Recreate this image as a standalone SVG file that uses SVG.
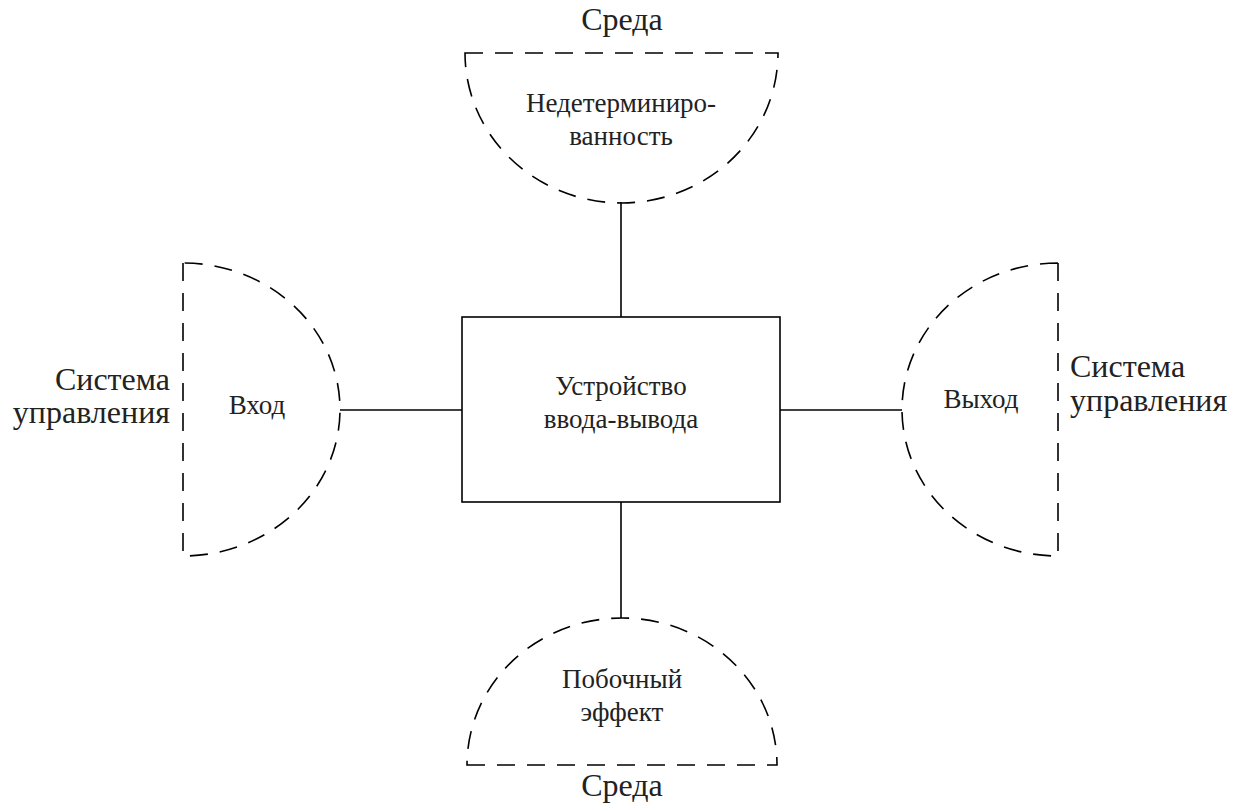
<svg xmlns="http://www.w3.org/2000/svg" width="1238" height="803" viewBox="0 0 1238 803">
<style>
.dash{fill:none;stroke:#000;stroke-width:1.6;stroke-dasharray:18 12}
.line{fill:none;stroke:#000;stroke-width:1.6}
.box{fill:#fff;stroke:#000;stroke-width:1.6}
.t{font-family:"Liberation Serif","Times New Roman",serif;fill:#222;text-anchor:middle}
.s{font-size:27px}
.b{font-size:32px}
</style>
<rect width="1238" height="803" fill="#fff"/>
<g id="connectors">
<line class="line" x1="621" y1="202" x2="621" y2="317"/>
<line class="line" x1="621" y1="502" x2="621" y2="618"/>
<line class="line" x1="340" y1="410" x2="462" y2="410"/>
<line class="line" x1="780" y1="410" x2="902" y2="410"/>
</g>
<g id="device">
<rect class="box" x="462" y="317" width="318" height="185"/>
<text class="t s" x="621" y="395">Устройство</text>
<text class="t s" x="621" y="428">ввода-вывода</text>
</g>
<g id="top-env">
<path class="dash" d="M465,53 H778 A156.5,150 0 0 1 465,53 Z"/>
<text class="t s" x="621" y="112">Недетерминиро-</text>
<text class="t s" x="621" y="145">ванность</text>
<text class="t b" x="622" y="30">Среда</text>
</g>
<g id="bottom-env">
<path class="dash" d="M467,765 H777 A155,147 0 0 0 467,765 Z"/>
<text class="t s" x="622" y="688">Побочный</text>
<text class="t s" x="622" y="721">эффект</text>
<text class="t b" x="622" y="796">Среда</text>
</g>
<g id="input">
<path class="dash" d="M183,263 V556 A157,146.5 0 0 0 183,263 Z"/>
<text class="t s" x="257" y="414">Вход</text>
<text class="t b" x="170" y="390" style="text-anchor:end">Система</text>
<text class="t b" x="170" y="423" style="text-anchor:end">управления</text>
</g>
<g id="output">
<path class="dash" d="M1058,263 V556 A156,146.5 0 0 1 1058,263 Z"/>
<text class="t s" x="981" y="408">Выход</text>
<text class="t b" x="1070" y="377" style="text-anchor:start">Система</text>
<text class="t b" x="1070" y="411" style="text-anchor:start">управления</text>
</g>
</svg>
